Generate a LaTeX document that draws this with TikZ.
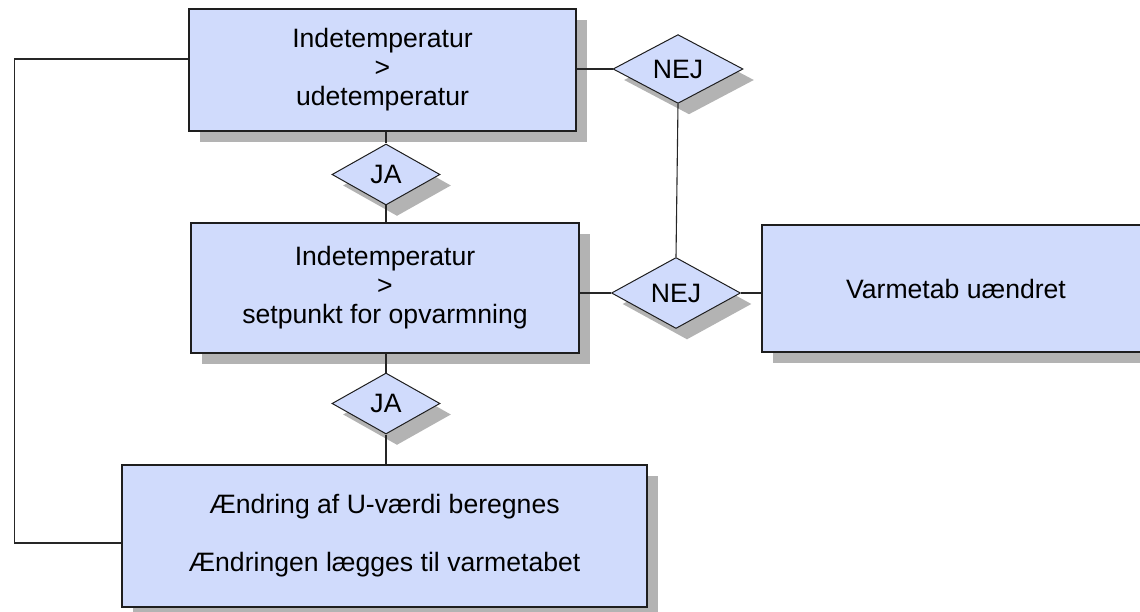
\documentclass[tikz,border=0pt]{standalone}
\usepackage{fontspec}
\setmainfont{Liberation Sans}
\usetikzlibrary{shapes.geometric,shadows}
\definecolor{boxfill}{RGB}{208,219,252}
\definecolor{shadowgray}{RGB}{179,179,179}
\definecolor{edgecol}{RGB}{30,30,30}
\tikzset{
  shad/.style={drop shadow={shadow xshift=11pt,shadow yshift=-11pt,fill=shadowgray,opacity=1}},
  procbox/.style={rectangle,draw=edgecol,line width=1.2pt,fill=boxfill,shad,inner sep=0pt,align=center,
    font=\fontsize{26.6}{29}\selectfont},
  decbox/.style={diamond,draw=edgecol,line width=1pt,fill=boxfill,shad,inner sep=0pt,
    font=\fontsize{26.6}{29}\selectfont},
  conn/.style={draw=black!85,line width=1.1pt}
}
\begin{document}
\begin{tikzpicture}[x=1pt,y=-1pt]
\useasboundingbox (0,0) rectangle (1140,612);
\clip (0,0) rectangle (1140,612);
\node[procbox,minimum width=387pt,minimum height=122pt] (top) at (382.5,70) {Indetemperatur\\>\\udetemperatur};
\node[procbox,minimum width=388pt,minimum height=130pt] (mid) at (385,288) {Indetemperatur\\>\\setpunkt for opvarmning};
\node[procbox,minimum width=388pt,minimum height=127pt] (var) at (956,288.5) {Varmetab uændret};
\node[procbox,minimum width=525pt,minimum height=142pt] (bot) at (384.5,536) {Ændring af U-værdi beregnes\\[29pt]Ændringen lægges til varmetabet};
\node[decbox,minimum width=130pt,minimum height=68pt] (nej1) at (678,69) {NEJ};
\node[decbox,minimum width=129pt,minimum height=71pt] (nej2) at (676,293) {NEJ};
\node[decbox,minimum width=108pt,minimum height=61pt] (ja1) at (386,174.5) {JA};
\node[decbox,minimum width=108pt,minimum height=61pt] (ja2) at (386,403.5) {JA};
\draw[conn] (top.east |- nej1.west) -- (nej1.west);
\draw[conn] (nej1.south) -- (nej2.north);
\draw[conn] (mid.east |- nej2.west) -- (nej2.west);
\draw[conn] (nej2.east) -- (var.west |- nej2.east);
\draw[conn] (top.south -| ja1.north) -- (ja1.north);
\draw[conn] (ja1.south) -- (mid.north -| ja1.south);
\draw[conn] (mid.south -| ja2.north) -- (ja2.north);
\draw[conn] (ja2.south) -- (bot.north -| ja2.south);
\draw[conn] ([yshift=11pt]top.west) -- ++(-174,0) |- ([yshift=-7pt]bot.west);
\end{tikzpicture}
\end{document}
